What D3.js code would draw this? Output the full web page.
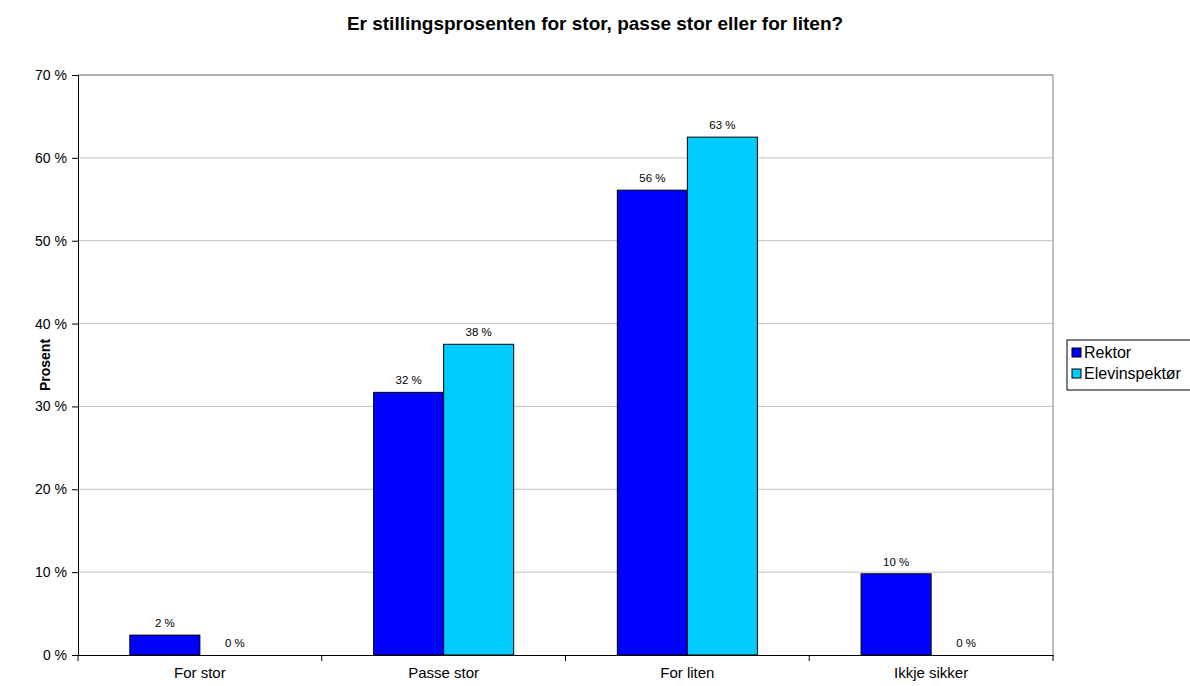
<!DOCTYPE html>
<html><head><meta charset="utf-8">
<script src="https://cdn.jsdelivr.net/npm/d3@7"></script>
<style>body{margin:0;background:#fff}svg{font-family:"Liberation Sans",Arial,sans-serif}</style>
</head><body><svg id="c" width="1190" height="686"></svg>
<script>
const categories = ["For stor", "Passe stor", "For liten", "Ikkje sikker"];
const seriesNames = ["Rektor", "Elevinspektør"];
const rektor = [2.4, 31.7, 56.1, 9.8];
const elevinspektor = [0, 37.5, 62.5, 0];
const labelsRektor = ["2 %", "32 %", "56 %", "10 %"];
const labelsElev = ["0 %", "38 %", "63 %", "0 %"];
const yTicks = [0, 10, 20, 30, 40, 50, 60, 70];
const colors = ["#0000ff", "#00ccff"];

const svg = d3.select("#c");
const L = 78, R = 1053, T = 75, B = 655;
const x = d3.scaleBand().domain(categories).range([L, R]).paddingInner(0).paddingOuter(0);
const xs = d3.scaleBand().domain(seriesNames).range([0, x.bandwidth()]).paddingInner(0).paddingOuter(0.74);
const y = d3.scaleLinear().domain([0, 70]).range([B, T]);

svg.append("g").selectAll("line").data(yTicks.filter(d => d > 0)).join("line")
  .attr("x1", L).attr("x2", R).attr("y1", d => y(d)).attr("y2", d => y(d))
  .attr("stroke", "#c0c0c0").attr("stroke-width", 1);
svg.append("line").attr("x1", R).attr("x2", R).attr("y1", T).attr("y2", B).attr("stroke", "#808080");
svg.append("line").attr("x1", L).attr("x2", R).attr("y1", T).attr("y2", T).attr("stroke", "#808080");

const data = categories.map((c, i) => ({c, vals: [rektor[i], elevinspektor[i]], labs: [labelsRektor[i], labelsElev[i]]}));
const g = svg.append("g").selectAll("g").data(data).join("g").attr("transform", d => `translate(${x(d.c)},0)`);
g.selectAll("rect").data(d => d.vals.map((v, j) => ({v, s: seriesNames[j], j}))).join("rect")
  .attr("x", d => xs(d.s)).attr("width", xs.bandwidth())
  .attr("y", d => y(d.v)).attr("height", d => B - y(d.v))
  .attr("fill", d => colors[d.j]).attr("stroke", d => d.v > 0 ? "#000" : "none").attr("stroke-width", 1);
g.selectAll("text").data(d => d.vals.map((v, j) => ({v, s: seriesNames[j], lab: d.labs[j]}))).join("text")
  .attr("x", d => xs(d.s) + xs.bandwidth() / 2).attr("y", d => y(d.v) - 8)
  .attr("text-anchor", "middle").attr("font-size", 11.5).attr("fill", "#000").text(d => d.lab);

const ya = d3.axisLeft(y).tickValues(yTicks).tickSize(6).tickFormat(d => d + " %");
const yg = svg.append("g").attr("transform", `translate(${L},0)`).call(ya);
yg.select(".domain").attr("stroke", "#000");
yg.selectAll(".tick line").attr("stroke", "#000");
yg.selectAll("text").attr("font-size", 14).attr("font-family", "Liberation Sans, Arial, sans-serif").attr("fill", "#000").attr("x", -11);

const xa = d3.axisBottom(x).tickSize(0).tickSizeOuter(0);
const xg = svg.append("g").attr("transform", `translate(0,${B})`).call(xa);
xg.select(".domain").attr("stroke", "#000");
xg.selectAll("text").attr("font-size", 15).attr("font-family", "Liberation Sans, Arial, sans-serif").attr("fill", "#000").attr("dy", "1.3em");
const bounds = categories.map(c => x(c)).concat([R]);
xg.selectAll(".sep").data(bounds).join("line").attr("class", "sep")
  .attr("x1", d => d).attr("x2", d => d).attr("y1", 0).attr("y2", 6).attr("stroke", "#000");

svg.append("text").attr("x", 595).attr("y", 30).attr("text-anchor", "middle")
  .attr("font-size", 19).attr("font-weight", "bold").text("Er stillingsprosenten for stor, passe stor eller for liten?");
svg.append("text").attr("transform", `translate(50,${(T + B) / 2}) rotate(-90)`).attr("text-anchor", "middle")
  .attr("font-size", 14).attr("font-weight", "bold").text("Prosent");

const lg = svg.append("g").attr("transform", "translate(1067,340)");
lg.append("rect").attr("x", 0).attr("y", 0).attr("width", 130).attr("height", 50).attr("fill", "#fff").attr("stroke", "#000");
seriesNames.forEach((s, i) => {
  lg.append("rect").attr("x", 5).attr("y", 8 + i * 21).attr("width", 9).attr("height", 9).attr("fill", colors[i]).attr("stroke", "#000");
  lg.append("text").attr("x", 17).attr("y", 18 + i * 21).attr("font-size", 16).text(s);
});
</script></body></html>
